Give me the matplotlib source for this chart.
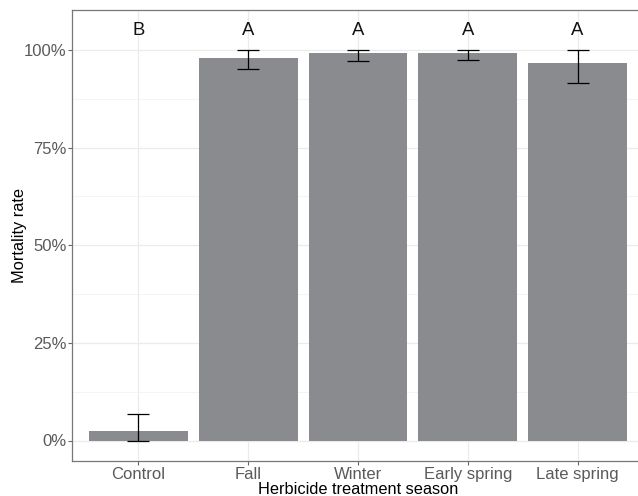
import matplotlib
matplotlib.use("Agg")
import matplotlib.pyplot as plt
from matplotlib.ticker import FixedLocator, FuncFormatter

plt.rcParams['font.family'] = ['Liberation Sans', 'DejaVu Sans']

categories = ["Control", "Fall", "Winter", "Early spring", "Late spring"]
mortality = [0.024, 0.980, 0.993, 0.993, 0.967]
err_low = [0.000, 0.952, 0.973, 0.975, 0.915]
err_high = [0.069, 1.000, 1.000, 1.000, 1.000]
letters = ["B", "A", "A", "A", "A"]
letter_y = 1.05

fig = plt.figure(figsize=(6.38, 4.96), dpi=100)
W, H = 638, 496
left, right, top, bottom = 72.4, 643.5, 10, 461
ax = fig.add_axes([left / W, 1 - bottom / H, (right - left) / W, (bottom - top) / H])
ax.set_facecolor("white")

x = list(range(len(categories)))
ax.bar(x, mortality, width=0.9, color="#8A8B8F", zorder=2)
yerr = [[m - lo for m, lo in zip(mortality, err_low)],
        [hi - m for m, hi in zip(mortality, err_high)]]
ax.errorbar(x, mortality, yerr=yerr, fmt="none", ecolor="black",
            elinewidth=0.9, capsize=7.8, capthick=0.9, zorder=3)
for xi, lab in zip(x, letters):
    ax.text(xi, letter_y, lab, ha="center", va="center", fontsize=13.3,
            color="#111111", zorder=4)

ax.set_xlim(-0.6, len(categories) - 0.4)
ax.set_ylim(-0.0525, 1.1025)
ax.yaxis.set_major_locator(FixedLocator([0, 0.25, 0.5, 0.75, 1.0]))
ax.yaxis.set_minor_locator(FixedLocator([0.125, 0.375, 0.625, 0.875]))
ax.yaxis.set_major_formatter(FuncFormatter(lambda v, p: f"{v*100:.0f}%"))
ax.set_xticks(x)
ax.set_xticklabels(categories)

ax.grid(True, which="major", color="#EBEBEB", linewidth=0.9, zorder=0)
ax.grid(True, which="minor", axis="y", color="#F2F2F2", linewidth=0.6, zorder=0)
ax.set_axisbelow(True)

for s in ax.spines.values():
    s.set_color("#777777")
    s.set_linewidth(0.9)

ax.tick_params(axis="both", which="major", length=3, width=0.8, color="#666666",
               labelsize=12, labelcolor="#5A5A5A")
ax.tick_params(axis="y", which="major", pad=1)
ax.tick_params(axis="x", which="major", pad=1)
ax.tick_params(axis="both", which="minor", length=0)

ax.set_xlabel("Herbicide treatment season", fontsize=11.8, color="black", labelpad=0)
ax.set_ylabel("Mortality rate", fontsize=11.8, color="black", labelpad=-2)

fig.savefig("out.png", dpi=100)
